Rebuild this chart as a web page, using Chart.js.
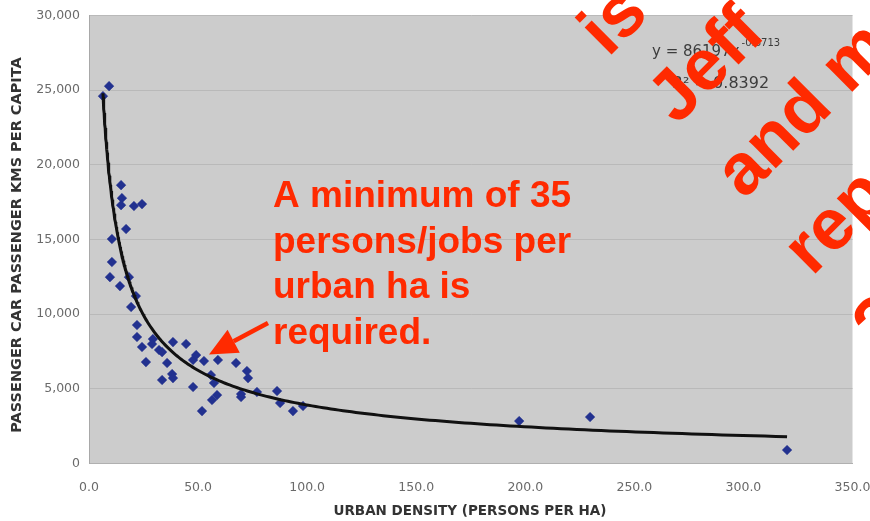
<!DOCTYPE html>
<html>
<head>
<meta charset="utf-8">
<title>Urban density vs passenger car travel</title>
<script src="https://cdn.jsdelivr.net/npm/chart.js@4.4.1/dist/chart.umd.min.js"></script>
<style>
  html, body { margin: 0; padding: 0; background: #ffffff; }
  #wrap { width: 870px; height: 521px; }
</style>
</head>
<body>
<div id="wrap"><canvas id="chart" width="870" height="521"></canvas></div>
<script>
// Urban density (persons + jobs per urban ha) for each city
const density = [
  6.4, 9.2, 14.7, 15.1, 14.7, 20.6, 24.3, 17.0, 10.5, 10.5,
  9.6, 14.2, 18.3, 21.5, 19.3, 22.0, 22.0, 24.3, 26.1, 29.3,
  28.9, 32.1, 33.5, 38.5, 35.8, 38.1, 33.5, 38.5, 44.5, 47.7,
  49.1, 52.7, 47.7, 51.8, 56.4, 58.7, 55.9, 57.3, 59.1, 67.4,
  72.4, 72.9, 69.7, 69.7, 77.0, 86.2, 87.6, 93.5, 98.1, 197.2,
  229.7, 320.0
];
// Passenger car passenger kilometres per capita for the same cities
const passengerKm = [
  24600, 25270, 18640, 17770, 17300, 17240, 17370, 15700, 15030, 13490,
  12480, 11880, 12480, 11210, 10480, 9270, 8470, 7800, 6790, 8330,
  8000, 7600, 7460, 8130, 6730, 5990, 5590, 5720, 8000, 6930,
  7260, 6860, 5120, 3510, 4250, 4580, 5920, 5390, 6930, 6730,
  6190, 5720, 4650, 4450, 4790, 4850, 4050, 3510, 3850, 2840,
  3110, 900
];

const xTicks = [0, 50, 100, 150, 200, 250, 300, 350];
const yTicks = [0, 5000, 10000, 15000, 20000, 25000, 30000];

// Power trendline y = a * x^b, as printed on the chart
const trendA = 86197;
const trendB = -0.6713;
const trendR2 = 0.8392;

const noteLines = ['A minimum of 35', 'persons/jobs per', 'urban ha is', 'required.'];
const notePoint = { x: 55, y: 7300 };   // where the arrow points (density, km)
const overlayLines = ['is', 'Jeff', 'and m', 'rep', '2'];

const xTitle = 'URBAN DENSITY (PERSONS PER HA)';
const yTitle = 'PASSENGER CAR PASSENGER KMS PER CAPITA';

const RED = '#ff2a00';

// Trendline samples across the observed density range
const xMin = Math.min(...density), xMax = Math.max(...density);
const trendPts = [];
const nSamples = 240;
for (let i = 0; i <= nSamples; i++) {
  const x = xMin * Math.pow(xMax / xMin, i / nSamples);
  trendPts.push({ x: x, y: trendA * Math.pow(x, trendB) });
}

const points = density.map((d, i) => ({ x: d, y: passengerKm[i] }));

const plotBackground = {
  id: 'plotBackground',
  beforeDraw(chart) {
    const { ctx, chartArea: a } = chart;
    ctx.save();
    ctx.fillStyle = '#cccccc';
    ctx.fillRect(a.left, a.top, a.right - a.left, a.bottom - a.top);
    ctx.restore();
  }
};

const decorations = {
  id: 'decorations',
  afterDraw(chart) {
    const { ctx, scales } = chart;
    ctx.save();

    // axis titles
    ctx.fillStyle = '#333333';
    ctx.textAlign = 'center';
    ctx.textBaseline = 'middle';
    ctx.font = 'bold 13.5px "DejaVu Sans"';
    ctx.fillText(xTitle, 470, 511);
    ctx.save();
    ctx.translate(17, 245);
    ctx.rotate(-Math.PI / 2);
    ctx.font = 'bold 14.5px "DejaVu Sans"';
    ctx.fillText(yTitle, 0, 0);
    ctx.restore();

    // trendline equation and R²
    ctx.fillStyle = '#3c3c3c';
    ctx.textAlign = 'left';
    ctx.textBaseline = 'alphabetic';
    ctx.font = '15px "DejaVu Sans"';
    const eq = 'y = ' + trendA + 'x';
    ctx.fillText(eq, 652, 56);
    const eqW = ctx.measureText(eq).width;
    ctx.font = '10px "DejaVu Sans"';
    ctx.fillText(String(trendB), 652 + eqW + 2, 46);
    ctx.font = '16px "DejaVu Sans"';
    ctx.fillText('R² = ' + trendR2, 672, 88);

    // note text
    ctx.fillStyle = RED;
    ctx.font = 'bold 37px "Liberation Sans"';
    noteLines.forEach((t, i) => ctx.fillText(t, 273, 207 + i * 45.5));

    // arrow to the density cluster
    const tipX = scales.x.getPixelForValue(notePoint.x);
    const tipY = scales.y.getPixelForValue(notePoint.y);
    const tailX = 268, tailY = 323;
    const ang = Math.atan2(tipY - tailY, tipX - tailX);
    const headLen = 28, headW = 13;
    const bx = tipX - headLen * Math.cos(ang), by = tipY - headLen * Math.sin(ang);
    ctx.strokeStyle = RED;
    ctx.lineWidth = 4.5;
    ctx.beginPath();
    ctx.moveTo(tailX, tailY);
    ctx.lineTo(bx, by);
    ctx.stroke();
    ctx.beginPath();
    ctx.moveTo(tipX, tipY);
    ctx.lineTo(bx + headW * Math.sin(ang), by - headW * Math.cos(ang));
    ctx.lineTo(bx - headW * Math.sin(ang), by + headW * Math.cos(ang));
    ctx.closePath();
    ctx.fill();

    // diagonal red lettering across the upper right
    ctx.font = 'bold 72px "Liberation Sans"';
    const starts = [[608, 58], [677, 126], [744, 200], [812, 277], [882, 353]];
    overlayLines.forEach((t, i) => {
      ctx.save();
      ctx.translate(starts[i][0], starts[i][1]);
      ctx.rotate(-Math.PI / 4);
      ctx.fillText(t, 0, 0);
      ctx.restore();
    });

    ctx.restore();
  }
};

new Chart(document.getElementById('chart'), {
  type: 'scatter',
  data: {
    datasets: [
      {
        label: 'Power trend',
        type: 'line',
        data: trendPts,
        showLine: true,
        borderColor: '#111111',
        borderWidth: 3,
        pointRadius: 0,
        tension: 0,
        fill: false
      },
      {
        label: 'Cities',
        data: points,
        pointStyle: 'rectRot',
        pointRadius: 4.8,
        pointBackgroundColor: '#22318f',
        pointBorderColor: '#22318f',
        pointBorderWidth: 0.5
      }
    ]
  },
  options: {
    responsive: false,
    devicePixelRatio: 1,
    animation: false,
    layout: { padding: { top: 15.5, right: 17.5, left: 0, bottom: 0 } },
    plugins: { legend: { display: false }, tooltip: { enabled: false } },
    scales: {
      x: {
        type: 'linear',
        min: xTicks[0],
        max: xTicks[xTicks.length - 1],
        afterBuildTicks(scale) { scale.ticks = xTicks.map(v => ({ value: v })); },
        afterFit(scale) { scale.height = 57.5; scale.paddingLeft = 0; scale.paddingRight = 0; },
        grid: { display: false, drawTicks: false },
        border: { display: true, color: '#b0b0b0', width: 1 },
        ticks: {
          padding: 17,
          color: '#6a6a6a',
          font: { family: '"DejaVu Sans"', size: 12.5 },
          callback: v => Number(v).toFixed(1)
        }
      },
      y: {
        type: 'linear',
        min: yTicks[0],
        max: yTicks[yTicks.length - 1],
        afterBuildTicks(scale) { scale.ticks = yTicks.map(v => ({ value: v })); },
        afterFit(scale) { scale.width = 89; scale.paddingTop = 0; scale.paddingBottom = 0; },
        grid: { color: '#b9b9b9', lineWidth: 1, drawTicks: false },
        border: { display: true, color: '#a8a8a8', width: 1 },
        ticks: {
          padding: 9,
          color: '#6a6a6a',
          font: { family: '"DejaVu Sans"', size: 12.5 },
          callback: v => Number(v).toLocaleString('en-US')
        }
      }
    }
  },
  plugins: [plotBackground, decorations]
});
</script>
</body>
</html>
